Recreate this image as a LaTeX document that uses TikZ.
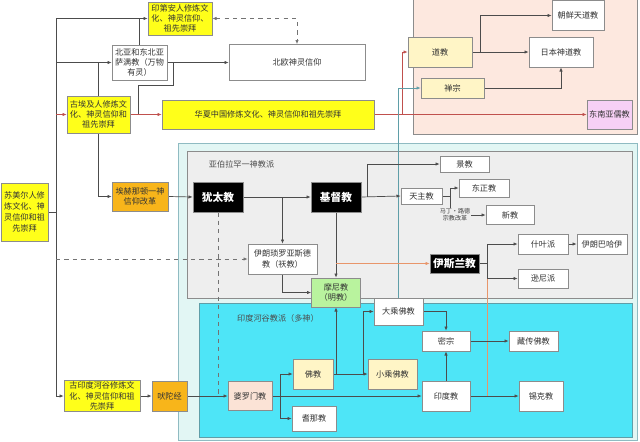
\documentclass[tikz,border=0pt]{standalone}
\usepackage{fontspec}
\setmainfont{Noto Sans CJK SC}
\usetikzlibrary{arrows.meta, calc}
\pgfdeclarelayer{bg}
\pgfdeclarelayer{links}
\pgfsetlayers{bg,links,main}

\definecolor{fyellow}{HTML}{FFFF1A}
\definecolor{forange}{HTML}{F8B51A}
\definecolor{lyellow}{HTML}{FFF5C6}
\definecolor{peach}{HTML}{FBE3D6}
\definecolor{lpink}{HTML}{F7D0F5}
\definecolor{lgreen}{HTML}{B9F39E}
\definecolor{eastbg}{HTML}{FDE8DF}
\definecolor{westbg}{HTML}{E2F6F4}
\definecolor{abrbg}{HTML}{EEEEEE}
\definecolor{indbg}{HTML}{4EE5F7}
\definecolor{redln}{HTML}{C0504D}
\definecolor{tealln}{HTML}{5F9EA8}
\definecolor{orln}{HTML}{E8956A}

\begin{document}
\begin{tikzpicture}[x=0.025cm, y=-0.025cm,
    base/.style={draw=black!45, inner sep=1pt, align=center, text=black!80,
                 font=\fontsize{5.8}{7.3}\selectfont},
    bw/.style={minimum width=#1*0.025cm},
    bh/.style={minimum height=#1*0.025cm},
    ybox/.style={base, fill=fyellow},
    obox/.style={base, fill=forange},
    wbox/.style={base, fill=white},
    lybox/.style={base, fill=lyellow},
    kbox/.style={base, fill=black, text=white, font=\fontsize{7.6}{9}\selectfont\bfseries},
    conn/.style={draw=black!70, line width=0.5pt},
    arr/.style={conn, -{Latex[length=3pt,width=2.4pt]}},
    dasharr/.style={arr, dashed},
    redarr/.style={arr, draw=redln},
    tealarr/.style={arr, draw=tealln},
    orarr/.style={arr, draw=orln}]

    \useasboundingbox (0,0) rectangle (640,442);

    % regions
    \begin{pgfonlayer}{bg}
        \fill[white] (0,0) rectangle (640,442);
        \draw[black!45, fill=eastbg] (413,-2) rectangle (637,134);
        \draw[tealln!70, fill=westbg] (178,143) rectangle (637,440);
        \draw[black!45, fill=abrbg] (187,151) rectangle (632,298);
        \draw[tealln, fill=indbg] (199,303) rectangle (632,437);
    \end{pgfonlayer}
    \node[anchor=west, text=black!70, font=\fontsize{5.8}{7}\selectfont] (abrlabel) at (204,164) {亚伯拉罕一神教派};
    \node[text=black!70, font=\fontsize{5.8}{7}\selectfont] (indlabel) at (278,318) {印度河谷教派（多神）};

    % origins
    \node[ybox, bw=64, bh=33] (indian) at (180,18.5) {印第安人修炼文\\化、神灵信仰、\\祖先崇拜};
    \node[wbox, bw=55, bh=35] (saman) at (139.5,62.5) {北亚和东北亚\\萨满教（万物\\有灵）};
    \node[wbox, bw=136, bh=36] (beiou) at (297,62.5) {北欧神灵信仰};
    \node[ybox, bw=63, bh=37] (aiji) at (98.5,114.5) {古埃及人修炼文\\化、神灵信仰和\\祖先崇拜};
    \node[ybox, bw=212, bh=29] (huaxia) at (268,114.5) {华夏中国修炼文化、神灵信仰和祖先崇拜};
    \node[ybox, bw=47, bh=58, font=\fontsize{5.8}{7.8}\selectfont] (sumer) at (24.5,212) {苏美尔人修\\炼文化、神\\灵信仰和祖\\先崇拜};
    \node[obox, bw=56, bh=29] (aten) at (140,196.5) {埃赫那顿一神\\信仰改革};
    \node[ybox, bw=76, bh=30] (guyindu) at (102,396) {古印度河谷修炼文\\化、神灵信仰和祖\\先崇拜};
    \node[obox, bw=35, bh=30] (feituo) at (169.5,396) {吠陀经};

    % east asia
    \node[lybox, bw=64, bh=30] (daojiao) at (440,52) {道教};
    \node[lybox, bw=63, bh=20] (chanzong) at (452.5,88) {禅宗};
    \node[wbox, bw=52, bh=30] (tiandao) at (578,15.5) {朝鲜天道教};
    \node[wbox, bw=64, bh=30] (shendao) at (561,52) {日本神道教};
    \node[base, fill=lpink, bw=45, bh=29] (rujiao) at (609.5,114.5) {东南亚儒教};

    % abrahamic
    \node[kbox, bw=50, bh=30] (youtai) at (218,197) {犹太教};
    \node[kbox, bw=50, bh=30] (jidu) at (336,197) {基督教};
    \node[wbox, bw=69, bh=30] (xianjiao) at (282.5,259) {伊朗琐罗亚斯德\\教（祆教）};
    \node[base, fill=lgreen, bw=49, bh=29] (moni) at (336,292.5) {摩尼教\\（明教）};
    \node[wbox, bw=49, bh=16] (jingjiao) at (464.5,164) {景教};
    \node[wbox, bw=41, bh=16] (tianzhu) at (421.5,196) {天主教};
    \node[wbox, bw=50, bh=18] (dongzheng) at (484,188) {东正教};
    \node[wbox, bw=48, bh=19] (xinjiao) at (510,215) {新教};
    \node[inner sep=0.5pt, align=center, text=black!75, font=\fontsize{4.3}{5.2}\selectfont] (luther) at (455,215) {马丁·路德\\宗教改革};
    \node[kbox, bw=49, bh=19] (yisilan) at (454.5,263.5) {伊斯兰教};
    \node[wbox, bw=50, bh=20] (shiye) at (543,244) {什叶派};
    \node[wbox, bw=50, bh=20] (bahai) at (602,244) {伊朗巴哈伊};
    \node[wbox, bw=50, bh=19] (xunni) at (543,278.5) {逊尼派};

    % indian
    \node[base, fill=peach, bw=44, bh=29] (poluomen) at (250,396) {婆罗门教};
    \node[lybox, bw=40, bh=30] (fojiao) at (313,374) {佛教};
    \node[wbox, bw=44, bh=25] (qina) at (314,418.5) {耆那教};
    \node[lybox, bw=49, bh=30] (xiaocheng) at (392.5,374) {小乘佛教};
    \node[wbox, bw=49, bh=27] (dacheng) at (398.5,311.5) {大乘佛教};
    \node[wbox, bw=48, bh=20] (mizong) at (446,341) {密宗};
    \node[wbox, bw=49, bh=20] (zangchuan) at (533.5,341) {藏传佛教};
    \node[wbox, bw=48, bh=30] (yindujiao) at (446,396) {印度教};
    \node[wbox, bw=44, bh=30] (xike) at (541,396) {锡克教};

    \coordinate (trunk) at (56,0);
    \coordinate (tz) at ($(tianzhu.east)+(8,0)$);
    \coordinate (ys) at ($(yisilan.east)+(8,0)$);
    \coordinate (pl) at ($(poluomen.east)+(8,0)$);

    \begin{pgfonlayer}{links}
        % left trunk
        \draw[conn] (sumer.east) -- (trunk |- sumer.east);
        \draw[conn] (trunk |- indian.west) -- (trunk |- guyindu.west);
        \draw[arr] (trunk |- indian.west) -- (indian.west);
        \draw[arr] (trunk |- saman.west) -- (saman.west);
        \draw[redarr] (trunk |- aiji.west) -- (aiji.west);
        \draw[arr] (trunk |- guyindu.west) -- (guyindu.west);
        \draw[dasharr, draw=black!55] (trunk |- xianjiao.west) -- (xianjiao.west);
        \draw[arr] (98,62.5) |- (aten.west);
        \draw[conn] (saman.north) -- (saman.north |- indian.west);
        \draw[arr] (saman.east) -- (beiou.west);
        \draw[conn] (138,114.5) |- (173,85) -- (173,62.5);
        \draw[dashed, draw=black!55, line width=0.5pt, {Latex[length=3pt,width=2.4pt]}-{Latex[length=3pt,width=2.4pt]}] (indian.east) -| (beiou.north);

        % east asia
        \draw[redarr] (aiji.east) -- (huaxia.west);
        \draw[redarr] (huaxia.east) -- (rujiao.west);
        \draw[redarr] (402,114.5) |- (daojiao.west);
        \draw[tealarr] (dacheng.north) |- (chanzong.west);
        \draw[arr] (daojiao.east) -- (shendao.west);
        \draw[arr] (480,52) |- (tiandao.west);
        \draw[arr] (chanzong.east) -| (shendao.south);

        % abrahamic
        \draw[arr] (aten.east) -- (youtai.west);
        \draw[arr] (youtai.east) -- (jidu.west);
        \draw[arr] (xianjiao.north |- youtai.east) -- (xianjiao.north);
        \draw[dashed, draw=black!55, line width=0.5pt] (youtai.south) -- (youtai.south |- poluomen.west);
        \draw[arr] (xianjiao.south) |- (moni.west);
        \draw[arr] (jidu.south) -- (moni.north);
        \draw[arr] (jidu.east) -- (tianzhu.west);
        \draw[arr] (367,197) |- (jingjiao.west);
        \draw[conn] (tianzhu.east) -- (tz);
        \draw[arr] (tz) |- (dongzheng.west);
        \draw[conn] (tz) -- (tz |- luther.north);
        \draw[arr] (luther.east) -- (xinjiao.west);
        \draw[orarr] (jidu.south |- yisilan.west) -- (yisilan.west);
        \draw[conn] (yisilan.east) -- (ys);
        \draw[arr] (ys) |- (shiye.west);
        \draw[arr] (ys) |- (xunni.west);
        \draw[arr] (shiye.east) -- (bahai.west);
        \draw[conn, draw=orln] (ys |- xunni.west) -- (ys |- xike.west);

        % indian
        \draw[arr] (guyindu.east) -- (feituo.west);
        \draw[arr] (feituo.east) -- (poluomen.west);
        \draw[arr] (poluomen.east) -- (yindujiao.west);
        \draw[arr] (pl) |- (fojiao.west);
        \draw[arr] (pl) |- (qina.west);
        \draw[arr] (fojiao.east) -- (xiaocheng.west);
        \draw[arr] (moni.south |- fojiao.east) -- (moni.south);
        \draw[arr] (363,374) |- (dacheng.west);
        \draw[arr] (dacheng.east) -| (mizong.north);
        \draw[arr] (yindujiao.north) -- (mizong.south);
        \draw[arr] (mizong.east) -- (zangchuan.west);
        \draw[arr] (yindujiao.east) -- (xike.west);
    \end{pgfonlayer}
\end{tikzpicture}
\end{document}
